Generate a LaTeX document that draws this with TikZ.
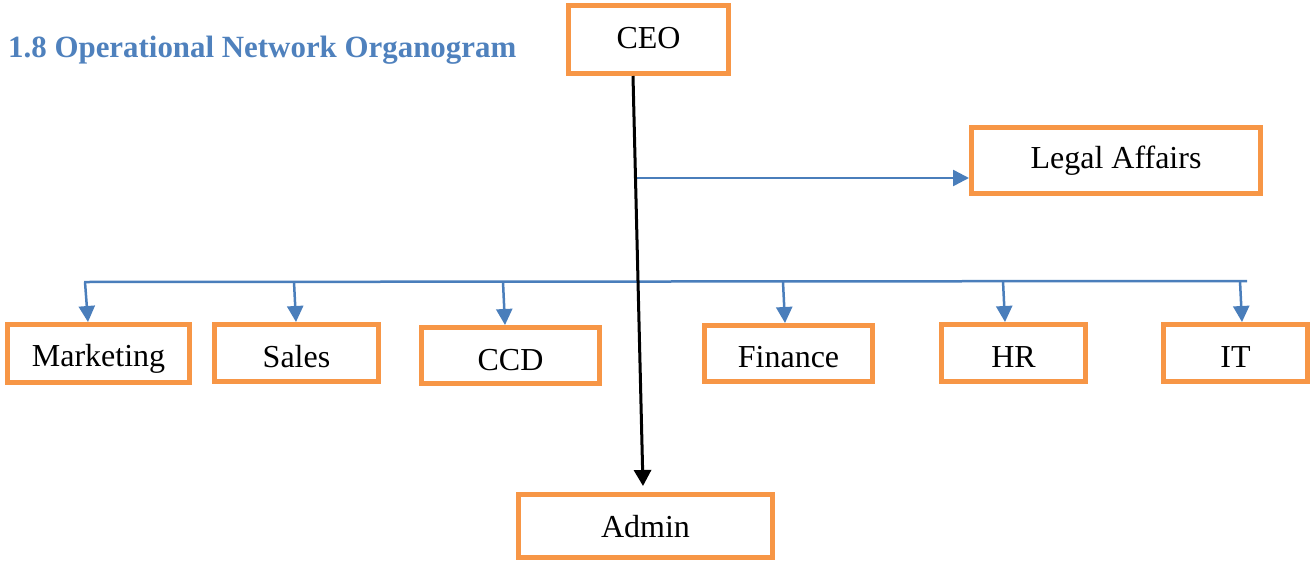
\documentclass[tikz,border=0pt]{standalone}
\usepackage{fontspec}
\setmainfont{Liberation Serif}
\usetikzlibrary{arrows.meta}
\definecolor{boxorange}{HTML}{F79646}
\definecolor{linkblue}{HTML}{4A7EBB}
\definecolor{titleblue}{HTML}{4F81BD}
\tikzset{
  orgbox/.style={draw=boxorange, line width=5pt, fill=white, inner sep=0pt,
    font=\fontsize{32}{38}\selectfont, text=black, text height=28pt, text depth=0pt},
  bluelink/.style={draw=linkblue, line width=2.5pt, -{Triangle[length=16pt,width=16pt]}},
  busline/.style={draw=linkblue, line width=2.5pt},
  blacklink/.style={draw=black, line width=3pt, -{Triangle[length=16pt,width=17pt]}}
}
\begin{document}
\begin{tikzpicture}[x=1pt,y=-1pt]
\useasboundingbox (0,0) rectangle (1310,560);
% title
\node[anchor=base west, inner sep=0pt, text=titleblue] (title) at (8,57)
  {\resizebox{508pt}{!}{\bfseries 1.8 Operational Network Organogram}};
% boxes
\node[orgbox, minimum width=160pt, minimum height=68pt, text height=22pt, text depth=5pt] (ceo) at (648.5,39.5) {CEO};
\node[orgbox, minimum width=289pt, minimum height=66pt, text height=21pt, text depth=6pt] (legal) at (1116,160.5) {Legal Affairs};
\node[orgbox, minimum width=182pt, minimum height=58pt, text height=25pt] (mkt) at (98.5,353.5) {Marketing};
\node[orgbox, minimum width=164pt, minimum height=57pt] (sales) at (296.5,353) {Sales};
\node[orgbox, minimum width=178pt, minimum height=56pt, text height=29pt] (ccd) at (510.5,355.5) {CCD};
\node[orgbox, minimum width=168pt, minimum height=56pt, text height=27pt] (fin) at (788.5,353.5) {Finance};
\node[orgbox, minimum width=144pt, minimum height=57pt] (hr) at (1013.5,353) {HR};
\node[orgbox, minimum width=144pt, minimum height=57pt] (it) at (1235.5,353) {IT};
\node[orgbox, minimum width=254pt, minimum height=63pt, text height=22pt] (admin) at (645.5,526) {Admin};
% coordinates
\coordinate (ceobot) at (633,76);
\coordinate (admtip) at (643,486);
\coordinate (legstart) at (634,178);
\coordinate (busL) at (84,282);
\coordinate (busR) at (1247,281);
\coordinate (dMkt) at (85,282);
\coordinate (dSales) at (294,282);
\coordinate (dCcd) at (503,282);
\coordinate (dFin) at (783,282);
\coordinate (dHr) at (1003,281);
\coordinate (dIt) at (1240,281);
% connectors
\draw[busline] (busL) -- (busR);
\draw[bluelink] (legstart) -- (legstart -| legal.west);
\draw[bluelink] (dMkt) -- (mkt.north -| 88,0);
\draw[bluelink] (dSales) -- (sales.north -| 296,0);
\draw[bluelink] (dCcd) -- (ccd.north -| 505,0);
\draw[bluelink] (dFin) -- (fin.north -| 785,0);
\draw[bluelink] (dHr) -- (hr.north -| 1005,0);
\draw[bluelink] (dIt) -- (it.north -| 1242,0);
\draw[blacklink] (ceobot) -- (admtip);
\end{tikzpicture}
\end{document}
